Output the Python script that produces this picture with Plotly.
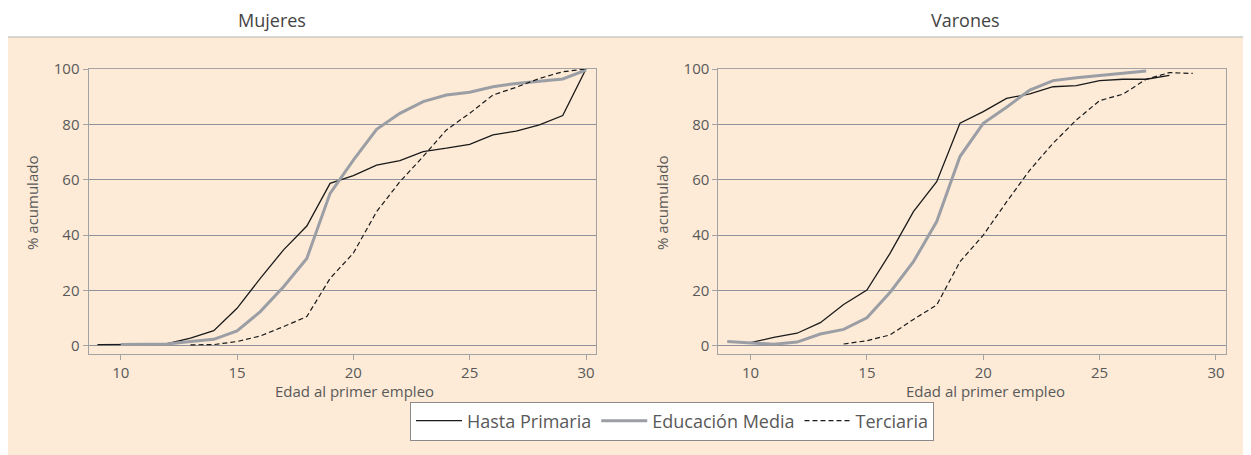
import plotly.graph_objects as go

# ---- Data ----
ages_m_prim = [9, 10, 11, 12, 13, 14, 15, 16, 17, 18, 19, 20, 21, 22, 23, 24, 25, 26, 27, 28, 29, 30]
mujeres_prim = [0.5, 0.5, 0.6, 0.8, 2.8, 5.5, 13.6, 24.4, 34.7, 43.3, 58.7, 61.5, 65.3, 66.9, 70.2, 71.4, 72.8, 76.2, 77.6, 79.8, 83.2, 100]

ages_m_media = [10, 11, 12, 13, 14, 15, 16, 17, 18, 19, 20, 21, 22, 23, 24, 25, 26, 27, 28, 29, 30]
mujeres_media = [0.5, 0.5, 0.7, 1.6, 2.4, 5.4, 12.4, 21.4, 31.6, 55.1, 67.1, 78.2, 84.0, 88.2, 90.6, 91.6, 93.6, 94.8, 95.7, 96.4, 99.6]

ages_m_terc = [13, 14, 15, 16, 17, 18, 19, 20, 21, 22, 23, 24, 25, 26, 27, 28, 29, 30]
mujeres_terc = [0.4, 0.5, 1.6, 3.6, 7.0, 10.6, 24.4, 33.5, 48.5, 59.3, 68.4, 78.0, 84.0, 90.6, 93.4, 96.6, 99.0, 100]

ages_v_prim = [10, 11, 12, 13, 14, 15, 16, 17, 18, 19, 20, 21, 22, 23, 24, 25, 26, 27, 28]
varones_prim = [1.2, 3.1, 4.6, 8.4, 15.0, 20.2, 33.5, 48.5, 59.3, 80.4, 84.6, 89.4, 91.0, 93.6, 94.0, 95.8, 96.3, 96.3, 97.7]

ages_v_media = [9, 10, 11, 12, 13, 14, 15, 16, 17, 18, 19, 20, 21, 22, 23, 24, 25, 26, 27]
varones_media = [1.6, 1.0, 0.6, 1.4, 4.3, 6.0, 10.2, 19.4, 30.4, 44.9, 68.4, 80.4, 86.2, 92.4, 95.8, 96.8, 97.6, 98.3, 99.3]

ages_v_terc = [14, 15, 16, 17, 18, 19, 20, 21, 22, 23, 24, 25, 26, 27, 28, 29]
varones_terc = [0.7, 1.9, 4.0, 9.6, 14.8, 30.4, 40.0, 52.0, 63.5, 73.2, 81.6, 88.6, 90.9, 96.3, 98.7, 98.4]

series_names = ["Hasta Primaria", "Educación Media", "Terciaria"]
panel_titles = ["Mujeres", "Varones"]
x_title = "Edad al primer empleo"
y_title = "% acumulado"
x_ticks = [10, 15, 20, 25, 30]
y_ticks = [0, 20, 40, 60, 80, 100]

# ---- Styles ----
VIEW_W, VIEW_H = 1251, 455
OFF = 8  # default page body margin
W, H = VIEW_W - OFF, VIEW_H - OFF
BG = "#FDEBD7"
TXT = "#595959"
FONT = "Open Sans"
styles = [
    dict(color="#1a1a1a", width=1.3),
    dict(color="#9b9ea4", width=3),
    dict(color="#1a1a1a", width=1.2, dash="5px,3px"),
]

fig = go.Figure()

panels = [
    ("x", "y", [(ages_m_prim, mujeres_prim), (ages_m_media, mujeres_media), (ages_m_terc, mujeres_terc)]),
    ("x2", "y2", [(ages_v_prim, varones_prim), (ages_v_media, varones_media), (ages_v_terc, varones_terc)]),
]
for pi, (xa, ya, data) in enumerate(panels):
    for si, (xs, ys) in enumerate(data):
        fig.add_trace(go.Scatter(
            x=xs, y=ys, mode="lines", name=series_names[si],
            line=styles[si], xaxis=xa, yaxis=ya,
            showlegend=(pi == 0),
        ))

def px_x(p):
    return (p - OFF) / W

def px_y(p):
    return (VIEW_H - p) / H

dom1 = [px_x(88.6), px_x(596)]
dom2 = [px_x(718.4), px_x(1226)]
ydom = [px_y(354), px_y(69)]

axis_common = dict(
    showline=True, linecolor="#a3a3a3", linewidth=1.2, mirror=True,
    ticks="outside", ticklen=5, tickcolor="#a3a3a3", tickwidth=1,
    tickfont=dict(family=FONT, size=15, color=TXT),
    zeroline=False, automargin=False,
)

def ann(text, x, y, size=15, angle=0, color=TXT):
    return dict(text=text, x=px_x(x), y=px_y(y), xref="paper", yref="paper", showarrow=False,
                xanchor="center", yanchor="middle", textangle=angle,
                font=dict(family=FONT, size=size, color=color))

fig.update_layout(
    width=W, height=H,
    margin=dict(l=0, r=0, t=0, b=0, autoexpand=False),
    paper_bgcolor="white",
    plot_bgcolor=BG,
    font=dict(family=FONT, color=TXT),
    xaxis=dict(domain=dom1, range=[8.62, 30.43], tickvals=x_ticks, showgrid=False, anchor="y", **axis_common),
    yaxis=dict(domain=ydom, range=[-2.9, 100], tickvals=y_ticks, showgrid=True, gridcolor="#8e929a", gridwidth=1, anchor="x", **axis_common),
    xaxis2=dict(domain=dom2, range=[8.62, 30.43], tickvals=x_ticks, showgrid=False, anchor="y2", **axis_common),
    yaxis2=dict(domain=ydom, range=[-2.9, 100], tickvals=y_ticks, showgrid=True, gridcolor="#8e929a", gridwidth=1, anchor="x2", **axis_common),
    legend=dict(
        orientation="h", x=px_x(672), xanchor="center", y=px_y(421), yanchor="middle",
        bgcolor="white", bordercolor="#8a8a8a", borderwidth=1,
        font=dict(family=FONT, size=18, color=TXT),
        itemwidth=46,
        tracegroupgap=0,
    ),
    shapes=[dict(
        type="rect", xref="paper", yref="paper",
        x0=px_x(5), x1=px_x(1262), y0=px_y(470), y1=px_y(37),
        fillcolor=BG, line=dict(color="#b3b3b3", width=1.2), layer="below",
    )],
    annotations=[
        ann(panel_titles[0], 272, 20, size=18, color="#444444"),
        ann(panel_titles[1], 965, 20, size=18, color="#444444"),
        ann(x_title, 354, 391),
        ann(x_title, 985, 391),
        ann(y_title, 32, 203, angle=-90),
        ann(y_title, 662, 203, angle=-90),
    ],
)

fig.write_html("out.html")
